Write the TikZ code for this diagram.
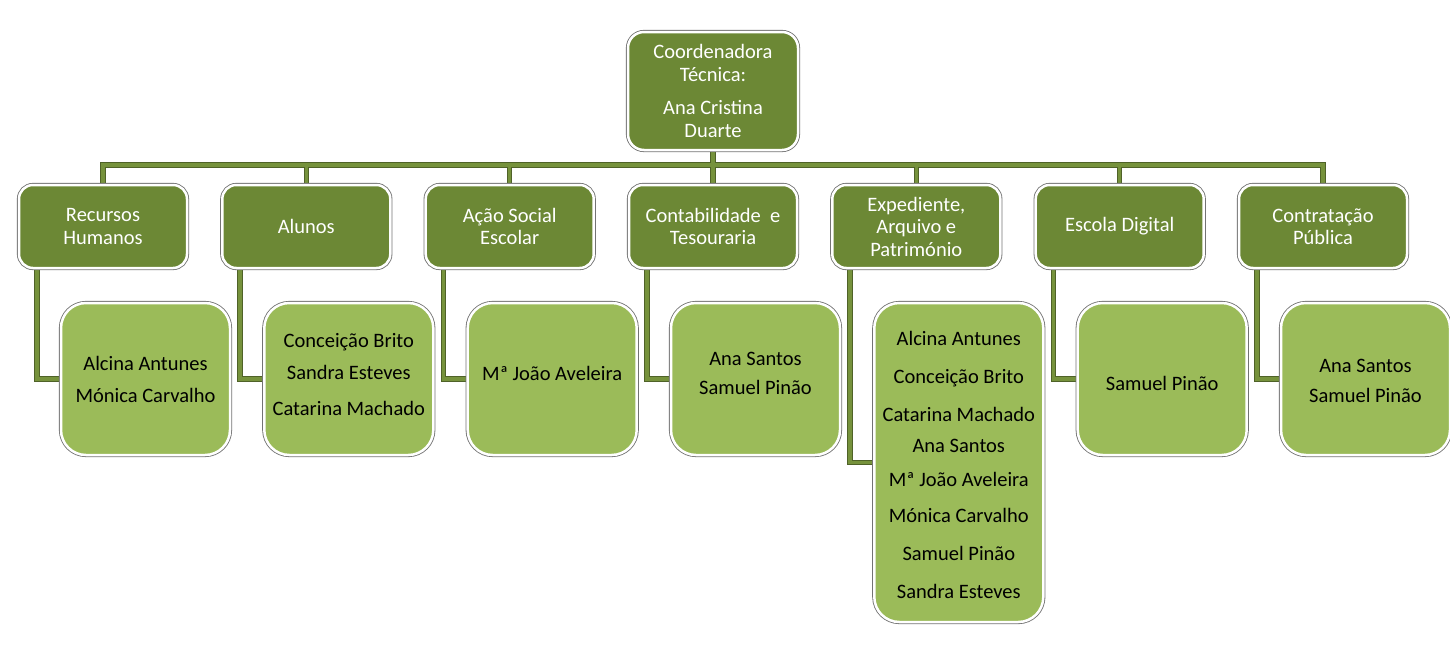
\documentclass[tikz,border=0pt]{standalone}
\usepackage{fontspec}
\setmainfont{Carlito}
\usetikzlibrary{backgrounds}
\definecolor{dk}{HTML}{6C8835}
\definecolor{lt}{HTML}{9BBB59}
\definecolor{cin}{HTML}{76923C}
\definecolor{cout}{HTML}{4F6228}
\newcommand\shiftedtext[2]{\raisebox{#1}[\height][\depth]{\begin{tabular}{@{}c@{}}#2\end{tabular}}}
\begin{document}
\begin{tikzpicture}[x=1pt,y=-1pt,
  base/.style={rectangle, inner sep=0pt, align=center,
    font=\fontsize{20.5}{22.5}\selectfont, draw=white, line width=2.5pt,
    preaction={draw=black!55, line width=4.2pt}},
  dbox/.style={base, fill=dk, text=white, rounded corners=14pt,
    minimum width=168pt, minimum height=83pt},
  topbox/.style={dbox, minimum width=170pt, minimum height=118pt, rounded corners=16pt},
  lbox/.style={base, fill=lt, text=black, rounded corners=25pt,
    minimum width=169pt, minimum height=152pt},
  conn/.style={line width=#1}
]
\useasboundingbox (0,0) rectangle (1450,654);

\node[topbox] (top) at (713,91) {Coordenadora\\Técnica:\\[11pt]Ana Cristina\\Duarte};

\node[dbox] (d1) at (103,226.5) {Recursos\\Humanos};
\node[dbox] (d2) at (306.3,226.5) {Alunos};
\node[dbox] (d3) at (509.7,226.5) {Ação Social\\Escolar};
\node[dbox] (d4) at (713,226.5) {Contabilidade\ \ e\\Tesouraria};
\node[dbox] (d5) at (916.3,226.5) {Expediente,\\Arquivo e\\Património};
\node[dbox] (d6) at (1119.7,226.5) {Escola Digital};
\node[dbox] (d7) at (1323,226.5) {Contratação\\Pública};

\node[lbox] (l1) at (145.5,379) {\shiftedtext{-3pt}{Alcina Antunes\\[9.5pt]Mónica Carvalho}};
\node[lbox] (l2) at (348.8,379) {\shiftedtext{2pt}{Conceição Brito\\[9.5pt]Sandra Esteves\\[13.5pt]Catarina Machado}};
\node[lbox] (l3) at (552.2,379) {\shiftedtext{3pt}{Mª João Aveleira}};
\node[lbox] (l4) at (755.5,379) {\shiftedtext{4pt}{Ana Santos\\[6.5pt]Samuel Pinão}};
\node[lbox, minimum height=319pt] (l5) at (958.8,462.5) {\shiftedtext{-5pt}{Alcina Antunes\\[15.5pt]Conceição Brito\\[15.5pt]Catarina Machado\\[8.5pt]Ana Santos\\[11.5pt]Mª João Aveleira\\[13.5pt]Mónica Carvalho\\[15.5pt]Samuel Pinão\\[15.5pt]Sandra Esteves}};
\node[lbox] (l6) at (1162.2,379) {\shiftedtext{-7pt}{Samuel Pinão}};
\node[lbox] (l7) at (1365.5,379) {\shiftedtext{-4pt}{Ana Santos\\[7.5pt]Samuel Pinão}};

\coordinate (bus) at (713,165);

\begin{scope}[on background layer]
\foreach \w/\c in {5.5pt/cout,3.5pt/cin}{
  \foreach \i in {1,...,7}{
    \draw[conn=\w, \c] (top.south) -- (top.south |- bus) -| (d\i.north);
    \draw[conn=\w, \c] ([xshift=19pt]d\i.south west) |- (l\i.west);
  }
}
\end{scope}
\end{tikzpicture}
\end{document}
